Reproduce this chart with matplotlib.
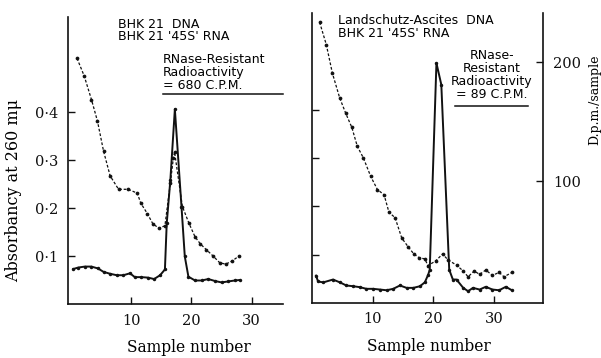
import matplotlib
matplotlib.use("Agg")
import matplotlib.pyplot as plt

### Data ###
# Left panel: BHK 21 DNA + BHK 21 '45S' RNA (absorbancy scale)
left_dash_x = [1.0, 2.2, 3.4, 4.4, 5.4, 6.5, 7.9, 9.5, 11.0, 11.6, 12.7, 13.6, 14.6, 15.6,
               16.5, 17.0, 17.2, 18.5, 19.6, 20.6, 21.5, 22.5, 23.6, 24.7, 25.7, 26.8, 27.9]
left_dash_y = [0.512, 0.475, 0.426, 0.381, 0.319, 0.267, 0.239, 0.239, 0.231, 0.210, 0.188,
               0.167, 0.158, 0.163, 0.252, 0.304, 0.317, 0.203, 0.168, 0.140, 0.125, 0.113,
               0.100, 0.086, 0.083, 0.090, 0.100]

left_solid_x = [0.4, 1.2, 2.3, 3.4, 4.5, 5.4, 6.5, 7.6, 8.7, 9.8, 10.6, 11.7, 12.8, 13.8,
                14.8, 15.6, 15.9, 16.5, 17.25, 18.35, 18.9, 19.5, 20.6, 21.7, 22.8, 23.9,
                25.0, 26.1, 27.2, 28.0]
left_solid_y = [0.073, 0.076, 0.078, 0.078, 0.074, 0.067, 0.063, 0.060, 0.060, 0.064, 0.056,
                0.056, 0.055, 0.052, 0.060, 0.072, 0.168, 0.258, 0.406, 0.203, 0.099, 0.057,
                0.049, 0.049, 0.052, 0.048, 0.045, 0.047, 0.049, 0.050]

# Right panel: Landschutz-Ascites DNA + BHK 21 '45S' RNA
right_dash_x = [1.3, 2.4, 3.4, 4.6, 5.6, 6.6, 7.5, 8.5, 9.7, 10.8, 11.9, 12.7, 13.7, 14.8,
                15.9, 16.8, 17.7, 18.6, 19.1, 20.4, 21.5, 22.4, 23.8, 24.9, 25.7, 26.7,
                27.6, 28.6, 29.7, 30.8, 31.6, 32.9]
right_dash_y = [0.580, 0.534, 0.475, 0.424, 0.392, 0.363, 0.324, 0.300, 0.262, 0.235, 0.224,
                0.188, 0.177, 0.135, 0.116, 0.102, 0.094, 0.092, 0.078, 0.088, 0.102, 0.090,
                0.079, 0.067, 0.055, 0.067, 0.060, 0.069, 0.058, 0.064, 0.055, 0.064]

# solid curve on the D.p.m./sample scale
right_solid_x = [0.7, 1.05, 1.9, 3.5, 4.6, 5.7, 6.8, 7.9, 9.0, 10.1, 11.2, 12.3, 13.4, 14.5,
                 15.6, 16.7, 17.8, 18.6, 19.15, 19.4, 20.5, 21.3, 22.6, 23.2, 23.8, 24.9,
                 25.7, 26.5, 27.6, 28.6, 29.7, 30.8, 31.9, 32.9]
right_solid_y = [20.9, 16.0, 15.2, 17.6, 15.3, 12.6, 12.0, 11.2, 9.8, 9.8, 9.2, 8.6, 9.8, 12.6,
                 10.6, 10.6, 12.0, 15.3, 21.8, 25.9, 199.5, 181.4, 25.9, 17.6, 17.6, 10.6,
                 7.8, 10.6, 9.2, 11.5, 9.2, 8.6, 11.5, 8.6]

abs_ticks = [0.1, 0.2, 0.3, 0.4]
abs_labels = ["0\u00b71", "0\u00b72", "0\u00b73", "0\u00b74"]
x_ticks = [10, 20, 30]
dpm_ticks = [100, 200]
### End data ###

serif = "DejaVu Serif"
lettering = "DejaVu Sans"
ink = "#111111"
letter_size = 9

dash_kw = dict(color=ink, lw=0.9, linestyle=(0, (2.2, 1.5)), marker="o", ms=2.7,
               markeredgewidth=0)
solid_kw = dict(color=ink, lw=1.4, marker="o", ms=2.5, markeredgewidth=0)

fig = plt.figure(figsize=(6.01, 3.58), dpi=100)
ax1 = fig.add_axes([0.1131, 0.1508, 0.3577, 0.8017])
ax2 = fig.add_axes([0.5186, 0.155, 0.3854, 0.8087])
ax2r = ax2.twinx()


def style_axis(ax):
    for side in ("top", "right"):
        ax.spines[side].set_visible(False)
    for side in ("left", "bottom"):
        ax.spines[side].set_linewidth(1.2)
        ax.spines[side].set_color(ink)
    ax.tick_params(direction="in", length=5, width=1.0, colors=ink,
                   labelsize=10.5, pad=7)
    ax.set_xticks(x_ticks)
    ax.set_xticklabels([str(t) for t in x_ticks], family=serif)
    ax.set_yticks(abs_ticks)


# left panel
style_axis(ax1)
ax1.plot(left_dash_x, left_dash_y, **dash_kw)
ax1.plot(left_solid_x, left_solid_y, **solid_kw)
ax1.set_xlim(-0.5, 35.2)
ax1.set_ylim(0, 0.598)
ax1.set_yticklabels(abs_labels, family=serif)
ax1.set_ylabel("Absorbancy at 260 m\u03bc", family=serif, fontsize=11.5)
ax1.yaxis.set_label_coords(-0.214, 0.394)
ax1.set_xlabel("Sample number", family=serif, fontsize=11.2)
ax1.xaxis.set_label_coords(0.563, -0.122)

ax1.text(0.235, 0.998, "BHK 21  DNA\nBHK 21 '45S' RNA", transform=ax1.transAxes,
         family=lettering, fontsize=letter_size, va="top", ha="left", linespacing=0.95)
ax1.text(0.442, 0.875, "RNase-Resistant\nRadioactivity\n= 680 C.P.M.", transform=ax1.transAxes,
         family=lettering, fontsize=letter_size, va="top", ha="left", linespacing=1.0)
ax1.plot([0.442, 1.0], [0.733, 0.733], transform=ax1.transAxes, color=ink, lw=1.1,
         clip_on=False)

# right panel
style_axis(ax2)
ax2.set_yticklabels([])
ax2.plot(right_dash_x, right_dash_y, **dash_kw)
ax2.set_xlim(0, 38.06)
ax2.set_ylim(0.002, 0.599)
ax2.set_xlabel("Sample number", family=serif, fontsize=11.2)
ax2.xaxis.set_label_coords(0.506, -0.124)

ax2r.plot(right_solid_x, right_solid_y, **solid_kw)
ax2r.set_ylim(-1.7, 241.6)
for side in ("top", "left", "bottom"):
    ax2r.spines[side].set_visible(False)
ax2r.spines["right"].set_linewidth(1.2)
ax2r.spines["right"].set_color(ink)
ax2r.set_yticks(dpm_ticks)
ax2r.set_yticklabels([str(t) for t in dpm_ticks], family=serif)
ax2r.tick_params(direction="in", length=5, width=1.0, colors=ink, labelsize=10.5, pad=7)
ax2r.set_ylabel("D.p.m./sample", family=serif, fontsize=9)
ax2r.yaxis.set_label_coords(1.195, 0.70)

ax2.text(0.115, 0.995, "Landschutz-Ascites  DNA\nBHK 21 '45S' RNA", transform=ax2.transAxes,
         family=lettering, fontsize=letter_size, va="top", ha="left", linespacing=0.95)
ax2.text(0.778, 0.875, "RNase-\nResistant\nRadioactivity\n= 89 C.P.M.", transform=ax2.transAxes,
         family=lettering, fontsize=letter_size, va="top", ha="center", linespacing=0.98)
ax2.plot([0.619, 0.934], [0.68, 0.68], transform=ax2.transAxes, color=ink, lw=1.1)

fig.savefig("out.png", dpi=100, facecolor="white")
